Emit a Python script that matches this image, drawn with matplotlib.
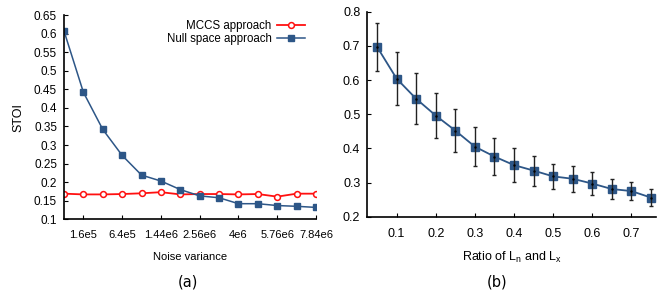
import numpy as np
import matplotlib.pyplot as plt

plt.rcParams['font.family'] = ['Liberation Sans', 'DejaVu Sans']

# (a) STOI vs noise variance; points are at sigma = 200*k, k = 1..14
k = np.arange(1, 15)
tick_k = [2, 4, 6, 8, 10, 12, 14]
tick_labels = ['1.6e5', '6.4e5', '1.44e6', '2.56e6', '4e6', '5.76e6', '7.84e6']
mccs = [0.169, 0.167, 0.167, 0.168, 0.170, 0.173, 0.167, 0.168, 0.168, 0.167, 0.168, 0.161, 0.169, 0.169]
null_space = [0.607, 0.442, 0.342, 0.272, 0.219, 0.203, 0.180, 0.163, 0.158, 0.142, 0.142, 0.137, 0.135, 0.132]

# (b) STOI vs ratio of Ln and Lx
ratio = [0.05, 0.10, 0.15, 0.20, 0.25, 0.30, 0.35, 0.40, 0.45, 0.50, 0.55, 0.60, 0.65, 0.70, 0.75]
stoi_b = [0.697, 0.604, 0.545, 0.496, 0.452, 0.405, 0.376, 0.351, 0.335, 0.318, 0.311, 0.297, 0.281, 0.275, 0.256]
err_b = [0.070, 0.077, 0.075, 0.066, 0.064, 0.058, 0.055, 0.050, 0.044, 0.037, 0.038, 0.034, 0.029, 0.027, 0.025]

blue = '#2d5687'
red = '#ff1010'

fig = plt.figure(figsize=(6.58, 3.01), dpi=100)
ax0 = fig.add_axes([64 / 658, 1 - 219.3 / 301, (316 - 64) / 658, (219.3 - 15) / 301])
ax1 = fig.add_axes([367.3 / 658, 1 - 216.7 / 301, (656 - 367.3) / 658, (216.7 - 11.7) / 301])

ax0.plot(k, mccs, color=red, lw=1.3, marker='o', ms=4.2, mfc='white', mec=red, mew=1.1,
         label='MCCS approach')
ax0.plot(k, null_space, color=blue, lw=1.1, marker='s', ms=5, mfc=blue, mec=blue,
         label='Null space approach')
ax0.set_xlim(1, 14)
ax0.set_ylim(0.1, 0.65)
ax0.set_xticks(tick_k)
ax0.set_xticklabels(tick_labels)
ax0.set_yticks(np.arange(0.1, 0.651, 0.05))
ax0.set_yticklabels(['0.1', '0.15', '0.2', '0.25', '0.3', '0.35', '0.4', '0.45',
                     '0.5', '0.55', '0.6', '0.65'])
ax0.set_ylabel('STOI', fontsize=9, labelpad=7)
ax0.set_xlabel('Noise variance', fontsize=8, labelpad=8)
ax0.legend(loc='upper right', bbox_to_anchor=(0.975, 1.0), frameon=False, markerfirst=False,
           fontsize=8.3, handlelength=2.4, handletextpad=0.5, labelspacing=0.12,
           borderaxespad=0)

ax1.errorbar(ratio, stoi_b, yerr=err_b, fmt='none', ecolor='#222222', elinewidth=1,
             capsize=1.5, capthick=1, zorder=3)
ax1.plot(ratio, stoi_b, color=blue, lw=1.3, marker='s', ms=5.5, mfc=blue, mec=blue, zorder=2)
ax1.plot(ratio, stoi_b, ls='none', marker='.', ms=1.5, color='black', zorder=4)
ax1.set_xlim(0.025, 0.763)
ax1.set_ylim(0.2, 0.8)
ax1.set_xticks([0.1, 0.2, 0.3, 0.4, 0.5, 0.6, 0.7])
ax1.set_yticks([0.2, 0.3, 0.4, 0.5, 0.6, 0.7, 0.8])
ax1.set_xlabel('Ratio of L$_\\mathregular{n}$ and L$_\\mathregular{x}$', fontsize=9, labelpad=7)

for ax, fs in ((ax0, 8), (ax1, 9)):
    ax.spines['top'].set_visible(False)
    ax.spines['right'].set_visible(False)
    ax.spines['left'].set_linewidth(1.2)
    ax.spines['bottom'].set_linewidth(1.2)
    ax.tick_params(direction='in', length=3, width=0.8, labelsize=fs, pad=8)
    ax.tick_params(axis='y', pad=5)
ax0.tick_params(axis='y', labelsize=8.5)

fig.text(188 / 658, 1 - 282 / 301, '(a)', ha='center', va='center', fontsize=10.5,
         family='DejaVu Sans')
fig.text(497 / 658, 1 - 282 / 301, '(b)', ha='center', va='center', fontsize=10.5,
         family='DejaVu Sans')

fig.savefig('out.png', dpi=100)
